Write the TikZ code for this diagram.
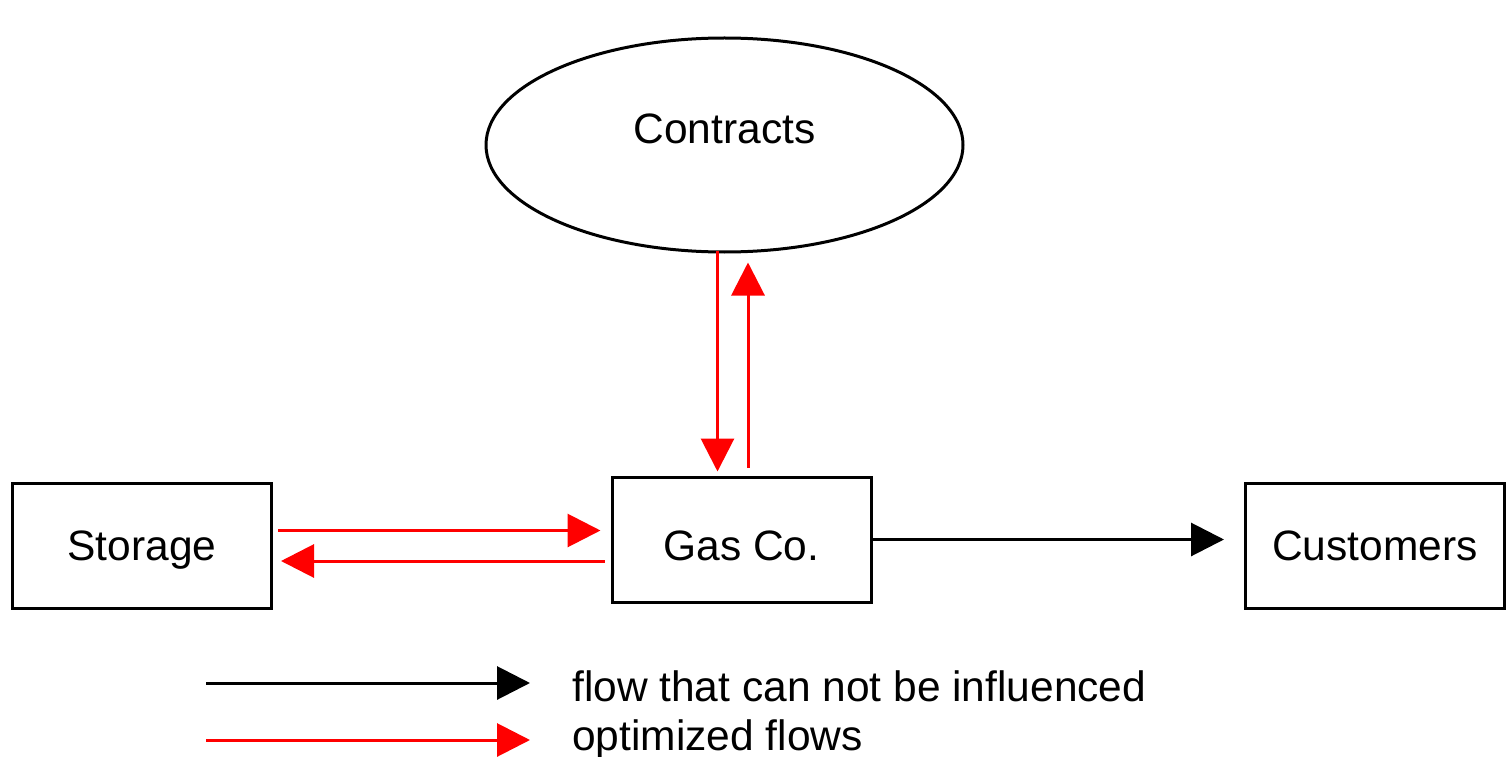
\documentclass[tikz,border=0pt]{standalone}
\usepackage{fontspec}
\setmainfont{Liberation Sans}
\usetikzlibrary{arrows.meta,shapes.geometric}

\tikzset{
  box/.style={draw=black, line width=3pt, rectangle, inner sep=0pt,
              minimum width=259pt, minimum height=125pt,
              text height=29pt, text depth=0pt},
  flow/.style={draw=black, line width=3pt,
               -{Triangle[length=33pt,width=33pt]}},
  optflow/.style={flow, draw=red, fill=red},
  legendtext/.style={anchor=base west, inner sep=0pt}
}

\begin{document}
\begin{tikzpicture}[x=1pt, y=-1pt, font=\fontsize{42.5}{50}\selectfont]
  \useasboundingbox (0,0) rectangle (1508,757);

  % actors
  \node[draw=black, line width=3pt, ellipse, inner sep=0pt,
        minimum width=477pt, minimum height=214pt,
        text height=0pt, text depth=2pt] (con) at (724.5,145) {Contracts};
  \node[box] (sto) at (142,545.5) {Storage};
  \node[box, text height=41pt] (gas) at (741.5,539.5) {Gas Co.};
  \node[box] (cus) at (1375,545.5) {Customers};

  % optimized flows between Gas Co. and Contracts
  \draw[optflow, shorten <=-3pt, shorten >=4pt]
    ([xshift=-7pt]con.south) -- ([xshift=-24pt]gas.north);
  \draw[optflow, shorten <=8pt, shorten >=9pt]
    ([xshift=6.5pt]gas.north) -- ([xshift=23.5pt]con.south);

  % optimized flows between Storage and Gas Co.
  \draw[optflow, shorten <=5pt, shorten >=10pt]
    ([yshift=15pt]sto.east) -- ([yshift=9pt]gas.west);
  \draw[optflow, shorten <=6pt, shorten >=8pt]
    ([yshift=-21.5pt]gas.west) -- ([yshift=-15.5pt]sto.east);

  % delivery to customers
  \draw[flow, shorten >=20pt] (gas.east) -- ([yshift=6pt]cus.west);

  % legend
  \coordinate (la1) at (206,683);
  \coordinate (lb1) at (530,683);
  \coordinate (la2) at (206,740);
  \coordinate (lb2) at (530,740);
  \draw[flow] (la1) -- (lb1);
  \draw[optflow] (la2) -- (lb2);
  \node[legendtext] (lt1) at (572,701) {flow that can not be influenced};
  \node[legendtext] (lt2) at (572,750) {optimized flows};
\end{tikzpicture}
\end{document}
